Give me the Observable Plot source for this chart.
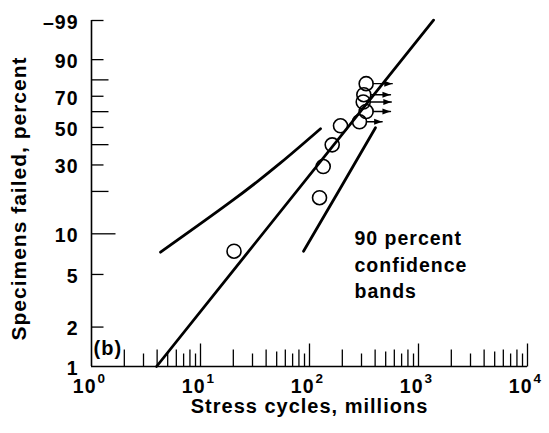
<!DOCTYPE html>
<html><head><meta charset="utf-8">
<script src="https://cdn.jsdelivr.net/npm/d3@7"></script>
<script src="https://cdn.jsdelivr.net/npm/@observablehq/plot@0.6"></script>
<style>
body{margin:0;background:#fff}
#chart svg{display:block}
</style>
</head><body><div id="chart"></div>
<script>
// ---- data ----
// failed specimens: stress cycles (millions), percent failed
const failX = [20.3, 123.6, 133.6, 161.5, 192.5];
const failP = [7.45, 18.1, 29.3, 39.9, 51.0];
// suspended specimens (with arrows)
const suspX = [287.5, 331, 311, 315, 331];
const suspP = [53.5, 60.1, 66.3, 71.0, 77.8];
const suspArrowEndX = [464, 553, 563, 553, 574];
// fitted Weibull line
const fitX = [3.95, 1374];
const fitP = [1, 99.03];
// 90 percent confidence bands
const upperBandX = [4.30, 18.85, 54.2, 126.2];
const upperBandP = [7.33, 16.9, 30.9, 49.2];
const lowerBandX = [88.1, 192.5, 403];
const lowerBandP = [7.45, 21.1, 49.8];
// axis ticks and labels
const yTickVals = [99, 90, 80, 70, 60, 50, 40, 30, 20, 10, 5, 2];
const yLabelVals = [99, 90, 70, 50, 30, 10, 5, 2, 1];
const yLabelText = ["\u201399", "90", "70", "50", "30", "10", "5", "2", "1"];
const xDecades = [1, 10, 100, 1000, 10000];
const xExponents = ["0", "1", "2", "3", "4"];
const xMinorMult = [2, 3, 4, 5, 6, 7, 8, 9];
const noteX = [258.6];
const noteP = [11.3];
const noteText = ["90 percent\nconfidence\nbands"];
const panelLabel = ["(b)"];
const xTitle = "Stress cycles, millions";
const yTitle = "Specimens failed, percent";

// ---- helpers ----
const wb = p => Math.log(-Math.log(1 - p / 100));
const hTick = L => ({draw(ctx) { ctx.moveTo(0, 0); ctx.lineTo(L, 0); }});
const vTick = L => ({draw(ctx) { ctx.moveTo(0, 0); ctx.lineTo(0, -L); }});
const arrowHead = {draw(ctx) { ctx.moveTo(0, 0); ctx.lineTo(-8, -3); ctx.lineTo(-8, 3); ctx.closePath(); }};

const yTickLen = v => v === 10 ? 24 : ([20, 40, 60, 80].includes(v) ? 17 : 12);
const xTickLen = (m) => m === 1 ? 23 : ([2, 4, 6, 8].includes(m) ? 17 : (m === 5 ? 15 : 13));

const fails = failX.map((x, i) => ({x, p: failP[i]}));
const susps = suspX.map((x, i) => ({x, p: suspP[i], x2: suspArrowEndX[i]}));
const fit = fitX.map((x, i) => ({x, p: fitP[i]}));
const upper = upperBandX.map((x, i) => ({x, p: upperBandP[i]}));
const lower = lowerBandX.map((x, i) => ({x, p: lowerBandP[i]}));

const yTicks = yTickVals.map(v => ({v, len: yTickLen(v)}));
const xTicks = [];
for (const d of xDecades.slice(0, 4)) for (const m of xMinorMult) xTicks.push({v: d * m, len: xTickLen(m)});
for (const d of xDecades.slice(1)) xTicks.push({v: d, len: xTickLen(1)});

const groupMarks = (rows, make) => [...new Set(rows.map(r => r.len))].map(L => make(rows.filter(r => r.len === L), L));

const FONT = "'Liberation Sans', Arial, Helvetica, sans-serif";

const chart = Plot.plot({
  width: 549,
  height: 433,
  marginLeft: 91,
  marginRight: 22,
  marginTop: 20,
  marginBottom: 67,
  x: {type: "log", domain: [1, 10000], axis: null},
  y: {type: "linear", domain: [wb(1), wb(99)], axis: null},
  style: {fontFamily: FONT, fontWeight: "bold", letterSpacing: "1px", background: "white", color: "black"},
  marks: [
    // axes lines
    Plot.ruleX([1], {stroke: "black", strokeWidth: 1.6}),
    Plot.ruleY([wb(1)], {stroke: "black", strokeWidth: 1.6}),
    // y ticks (inward)
    ...groupMarks(yTicks, (rows, L) => Plot.dot(rows, {x: () => 1, y: d => wb(d.v), symbol: hTick(L), stroke: "black", strokeWidth: 1.3, fill: "none"})),
    // x ticks (upward)
    ...groupMarks(xTicks, (rows, L) => Plot.dot(rows, {x: d => d.v, y: () => wb(1), symbol: vTick(L), stroke: "black", strokeWidth: 1.3, fill: "none"})),
    // y tick labels
    Plot.text(yLabelVals, {x: () => 1, y: d => wb(d), text: (d, i) => yLabelText[i], textAnchor: "end", dx: -13, dy: 2, fontSize: 19.5, fontWeight: "bold"}),
    // x tick labels: base and exponent
    Plot.text(xDecades, {x: d => d, y: () => wb(1), text: () => "10", textAnchor: "end", dx: 5, dy: 20, fontSize: 19.5, fontWeight: "bold"}),
    Plot.text(xDecades, {x: d => d, y: () => wb(1), text: (d, i) => xExponents[i], textAnchor: "start", dx: 6, dy: 12, fontSize: 13.5, fontWeight: "bold"}),
    // axis titles
    Plot.text([xTitle], {frameAnchor: "bottom", text: d => d, dy: 46, fontSize: 20, fontWeight: "bold"}),
    Plot.text([yTitle], {frameAnchor: "left", text: d => d, rotate: -90, textAnchor: "middle", dx: -72, dy: 5, fontSize: 21, fontWeight: "bold"}),
    // panel label
    Plot.text(panelLabel, {frameAnchor: "bottom-left", text: d => d, textAnchor: "start", dx: 2, dy: -12, fontSize: 20, fontWeight: "bold"}),
    // annotation
    Plot.text(noteText, {x: (d, i) => noteX[i], y: (d, i) => wb(noteP[i]), text: d => d, textAnchor: "start", lineAnchor: "top", lineHeight: 1.36, fontSize: 19.5, fontWeight: "bold"}),
    // fitted line and confidence bands
    Plot.line(fit, {x: "x", y: d => wb(d.p), stroke: "black", strokeWidth: 2.8}),
    Plot.line(upper, {x: "x", y: d => wb(d.p), stroke: "black", strokeWidth: 2.8, curve: "natural"}),
    Plot.line(lower, {x: "x", y: d => wb(d.p), stroke: "black", strokeWidth: 2.8, curve: "natural"}),
    // suspension arrows
    Plot.arrow(susps, {x1: "x", y1: d => wb(d.p), x2: "x2", y2: d => wb(d.p), insetStart: 7, headLength: 0, stroke: "black", strokeWidth: 1.4}),
    Plot.dot(susps, {x: "x2", y: d => wb(d.p), symbol: arrowHead, fill: "black", stroke: "none"}),
    // data points
    Plot.dot(fails, {x: "x", y: d => wb(d.p), r: 7, stroke: "black", strokeWidth: 1.6, fill: "none"}),
    Plot.dot(susps, {x: "x", y: d => wb(d.p), r: 7, stroke: "black", strokeWidth: 1.6, fill: "none"})
  ]
});
document.getElementById("chart").appendChild(chart);
</script>
</body></html>
